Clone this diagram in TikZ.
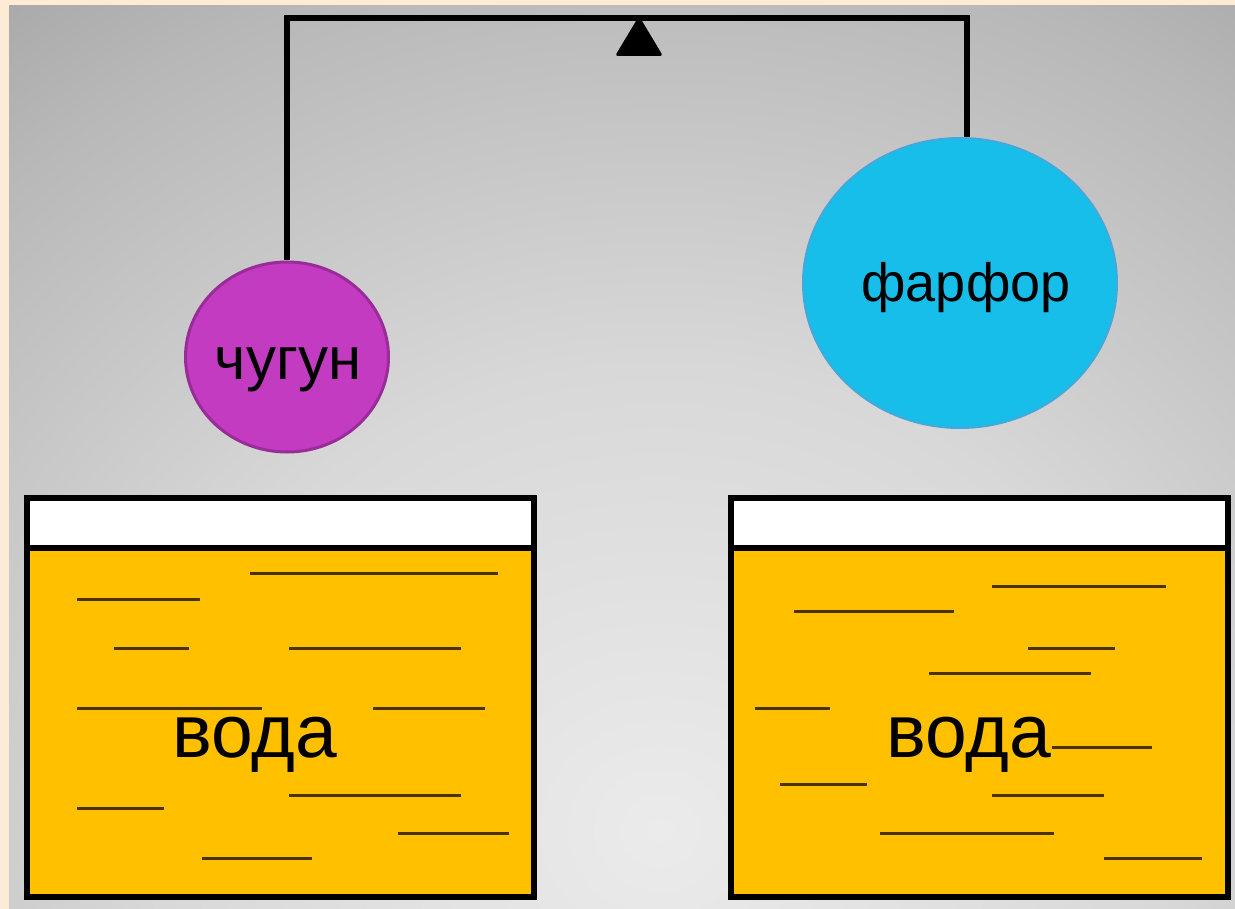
\documentclass[tikz,border=0pt]{standalone}
\usepackage{fontspec}
\setmainfont{Liberation Sans}
\usetikzlibrary{shapes.geometric}
\definecolor{beige}{HTML}{FDEBD5}
\definecolor{gA}{HTML}{EBEBEB}
\definecolor{gB}{HTML}{D8D8D8}
\definecolor{gC}{HTML}{C5C5C5}
\definecolor{gD}{HTML}{B8B8B8}
\definecolor{gE}{HTML}{A9A9A9}
\definecolor{purp}{HTML}{C23BC0}
\definecolor{purpd}{HTML}{9A2C9A}
\definecolor{cyanf}{HTML}{17BEE9}
\definecolor{cyand}{HTML}{45A8DA}
\definecolor{water}{HTML}{FFC000}
\definecolor{wline}{HTML}{4A3300}
\pgfdeclareradialshading{bgshade}{\pgfpoint{0bp}{0bp}}{color(0bp)=(gA); color(11bp)=(gB); color(17bp)=(gC); color(21bp)=(gD); color(24.5bp)=(gE); color(50bp)=(gE)}
\tikzset{
  beam/.style={line width=5.5pt, line join=miter},
  tank/.style={line width=5.5pt},
  wl/.style={wline, line width=3pt},
  label/.style={inner sep=0pt, anchor=base, text=black},
}
\begin{document}
\begin{tikzpicture}[x=1pt,y=-1pt]
\useasboundingbox (0,0) rectangle (1235,909);
% background
\fill[beige] (0,0) rectangle (1235,909);
\fill[gE] (9,6) rectangle (1235,909);
\begin{scope}
\clip (9,6) rectangle (1235,909);
\shade[shading=bgshade] (660,830) ellipse (1150 and 1050);
\end{scope}

% tanks
\fill[white] (27,498) rectangle (534,548);
\fill[water] (27,548) rectangle (534,897);
\fill[white] (731,498) rectangle (1228,548);
\fill[water] (731,548) rectangle (1228,897);

% water lines left
\foreach \a/\b/\y in {250/498/573,77/200/599,114/189/648,289/461/648,77/262/708,373/485/708,289/461/795,77/164/808,398/509/833,202/312/858}
  \draw[wl] (\a,\y) -- (\b,\y);
% water lines right
\foreach \a/\b/\y in {992/1166/586,794/954/611,1028/1115/648,929/1091/673,755/830/708,1052/1152/747,780/867/784,992/1104/795,880/1054/833,1104/1202/858}
  \draw[wl] (\a,\y) -- (\b,\y);

\draw[tank] (27,498) rectangle (534,897);
\draw[tank] (27,548) -- (534,548);
\draw[tank] (731,498) rectangle (1228,897);
\draw[tank] (731,548) -- (1228,548);

\node[label, font=\fontsize{75}{80}\selectfont] (vodaL) at (255,757) {вода};
\node[label, font=\fontsize{75}{80}\selectfont] (vodaR) at (969,757) {вода};

% weights
\node[ellipse, draw=purpd, line width=3pt, fill=purp, minimum width=203pt, minimum height=190pt, inner sep=0pt] (chug) at (287,357) {};
\node[label, font=\fontsize{60}{64}\selectfont] (chugT) at (288,380) {чугун};
\node[ellipse, draw=cyand, line width=2pt, fill=cyanf, minimum width=314pt, minimum height=290pt, inner sep=0pt] (farf) at (960,283) {};
\node[label, font=\fontsize{54}{58}\selectfont] (farfT) at (966,302) {фарфор};

% balance beam
\coordinate (bl) at (287,18);
\coordinate (br) at (967,18);
\fill[rounded corners=3pt] (639,16) -- (663,56) -- (615,56) -- cycle;
\draw[beam] (chug.north) -- (bl) -- (br) -- (br |- farf.north);
\end{tikzpicture}
\end{document}
